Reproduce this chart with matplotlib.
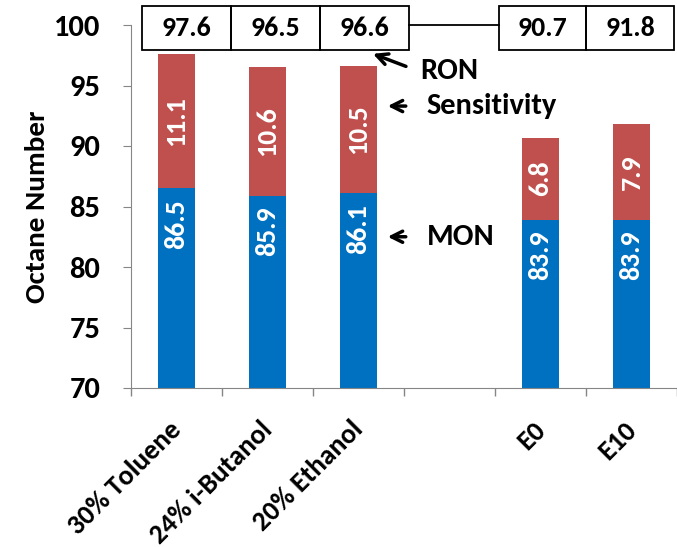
import numpy as np
import matplotlib.pyplot as plt
import matplotlib.transforms as mtransforms
from matplotlib.patches import Rectangle

plt.rcParams['font.family'] = ['Carlito', 'Lato', 'DejaVu Sans']
plt.rcParams['font.weight'] = 'bold'

categories = ['30% Toluene', '24% i-Butanol', '20% Ethanol', '', 'E0', 'E10']
mon = [86.5, 85.9, 86.1, np.nan, 83.9, 83.9]
sens = [11.1, 10.6, 10.5, np.nan, 6.8, 7.9]
ron = [97.6, 96.5, 96.6, None, 90.7, 91.8]

BLUE = '#0070C0'
RED = '#C0504D'
GREY = '#868686'


def main():
    fig = plt.figure(figsize=(6.77, 5.47), dpi=100)
    ax = fig.add_axes([131 / 677, 159 / 547, 1 - 131 / 677, 363 / 547])

    x = np.arange(len(categories))
    base = 70
    m = np.array(mon)
    s = np.array(sens)
    ax.bar(x, m - base, bottom=base, width=0.4, color=BLUE)
    ax.bar(x, s, bottom=m, width=0.4, color=RED)

    for i in range(len(categories)):
        if np.isnan(m[i]):
            continue
        ax.text(x[i], m[i] - 0.9, f'{m[i]:.1f}', rotation=90, ha='center', va='top',
                color='white', fontsize=20, fontweight='bold')
        ax.text(x[i], m[i] + s[i] / 2, f'{s[i]:.1f}', rotation=90, ha='center', va='center',
                color='white', fontsize=20, fontweight='bold')

    ax.set_xlim(-0.5, -0.5 + (677 - 131) / 91.3)
    ax.set_ylim(70, 100)
    ax.set_yticks(np.arange(70, 101, 5))
    ax.set_xticks(x)
    ax.set_xticklabels(categories, rotation=45, ha='right', va='baseline',
                       rotation_mode='anchor')
    ax.set_xticks(np.arange(-0.5, 6, 1), minor=True)
    ax.tick_params(axis='x', which='major', length=0, pad=31, labelsize=20)
    ax.tick_params(axis='x', which='minor', length=6, color=GREY, width=1)
    ax.tick_params(axis='y', length=6, color=GREY, labelsize=22, pad=16)
    shift = mtransforms.ScaledTranslation(0.06, 0, fig.dpi_scale_trans)
    for lab in ax.get_xticklabels():
        lab.set_transform(lab.get_transform() + shift)
    for lab in ax.get_xticklabels() + ax.get_yticklabels():
        lab.set_fontweight('bold')

    for side in ['top', 'right']:
        ax.spines[side].set_visible(False)
    for side in ['left', 'bottom']:
        ax.spines[side].set_color(GREY)
    ax.set_ylabel('Octane Number', fontsize=21, fontweight='bold', labelpad=4)

    # RON boxes above the plot
    box_edges = [(-0.38, 0.6), (0.6, 1.58), (1.58, 2.556), (3.54, 4.505), (4.505, 5.47)]
    ron_vals = [v for v in ron if v is not None]
    for (l, r), v in zip(box_edges, ron_vals):
        ax.add_patch(Rectangle((l, 97.95), r - l, 3.65, fill=False, ec='black', lw=1.3,
                               clip_on=False))
        ax.text((l + r) / 2, 99.75, f'{v:.1f}', ha='center', va='center',
                fontsize=20, fontweight='bold', clip_on=False)
    ax.plot([2.556, 3.54], [100, 100], color='black', lw=1.3, clip_on=False)

    arrow = dict(arrowstyle='->', lw=2.5, color='black', mutation_scale=20)
    ax.annotate('', xy=(2.13, 97.7), xytext=(2.55, 96.5), arrowprops=arrow,
                annotation_clip=False)
    ax.text(2.68, 96.2, 'RON', ha='left', va='center', fontsize=22, fontweight='bold')
    ax.annotate('', xy=(2.29, 93.3), xytext=(2.55, 93.3), arrowprops=arrow)
    ax.text(2.75, 93.3, 'Sensitivity', ha='left', va='center', fontsize=22, fontweight='bold')
    ax.annotate('', xy=(2.29, 82.5), xytext=(2.55, 82.5), arrowprops=arrow)
    ax.text(2.75, 82.5, 'MON', ha='left', va='center', fontsize=22, fontweight='bold')

    fig.savefig('out.png', dpi=100)


if __name__ == '__main__':
    main()
